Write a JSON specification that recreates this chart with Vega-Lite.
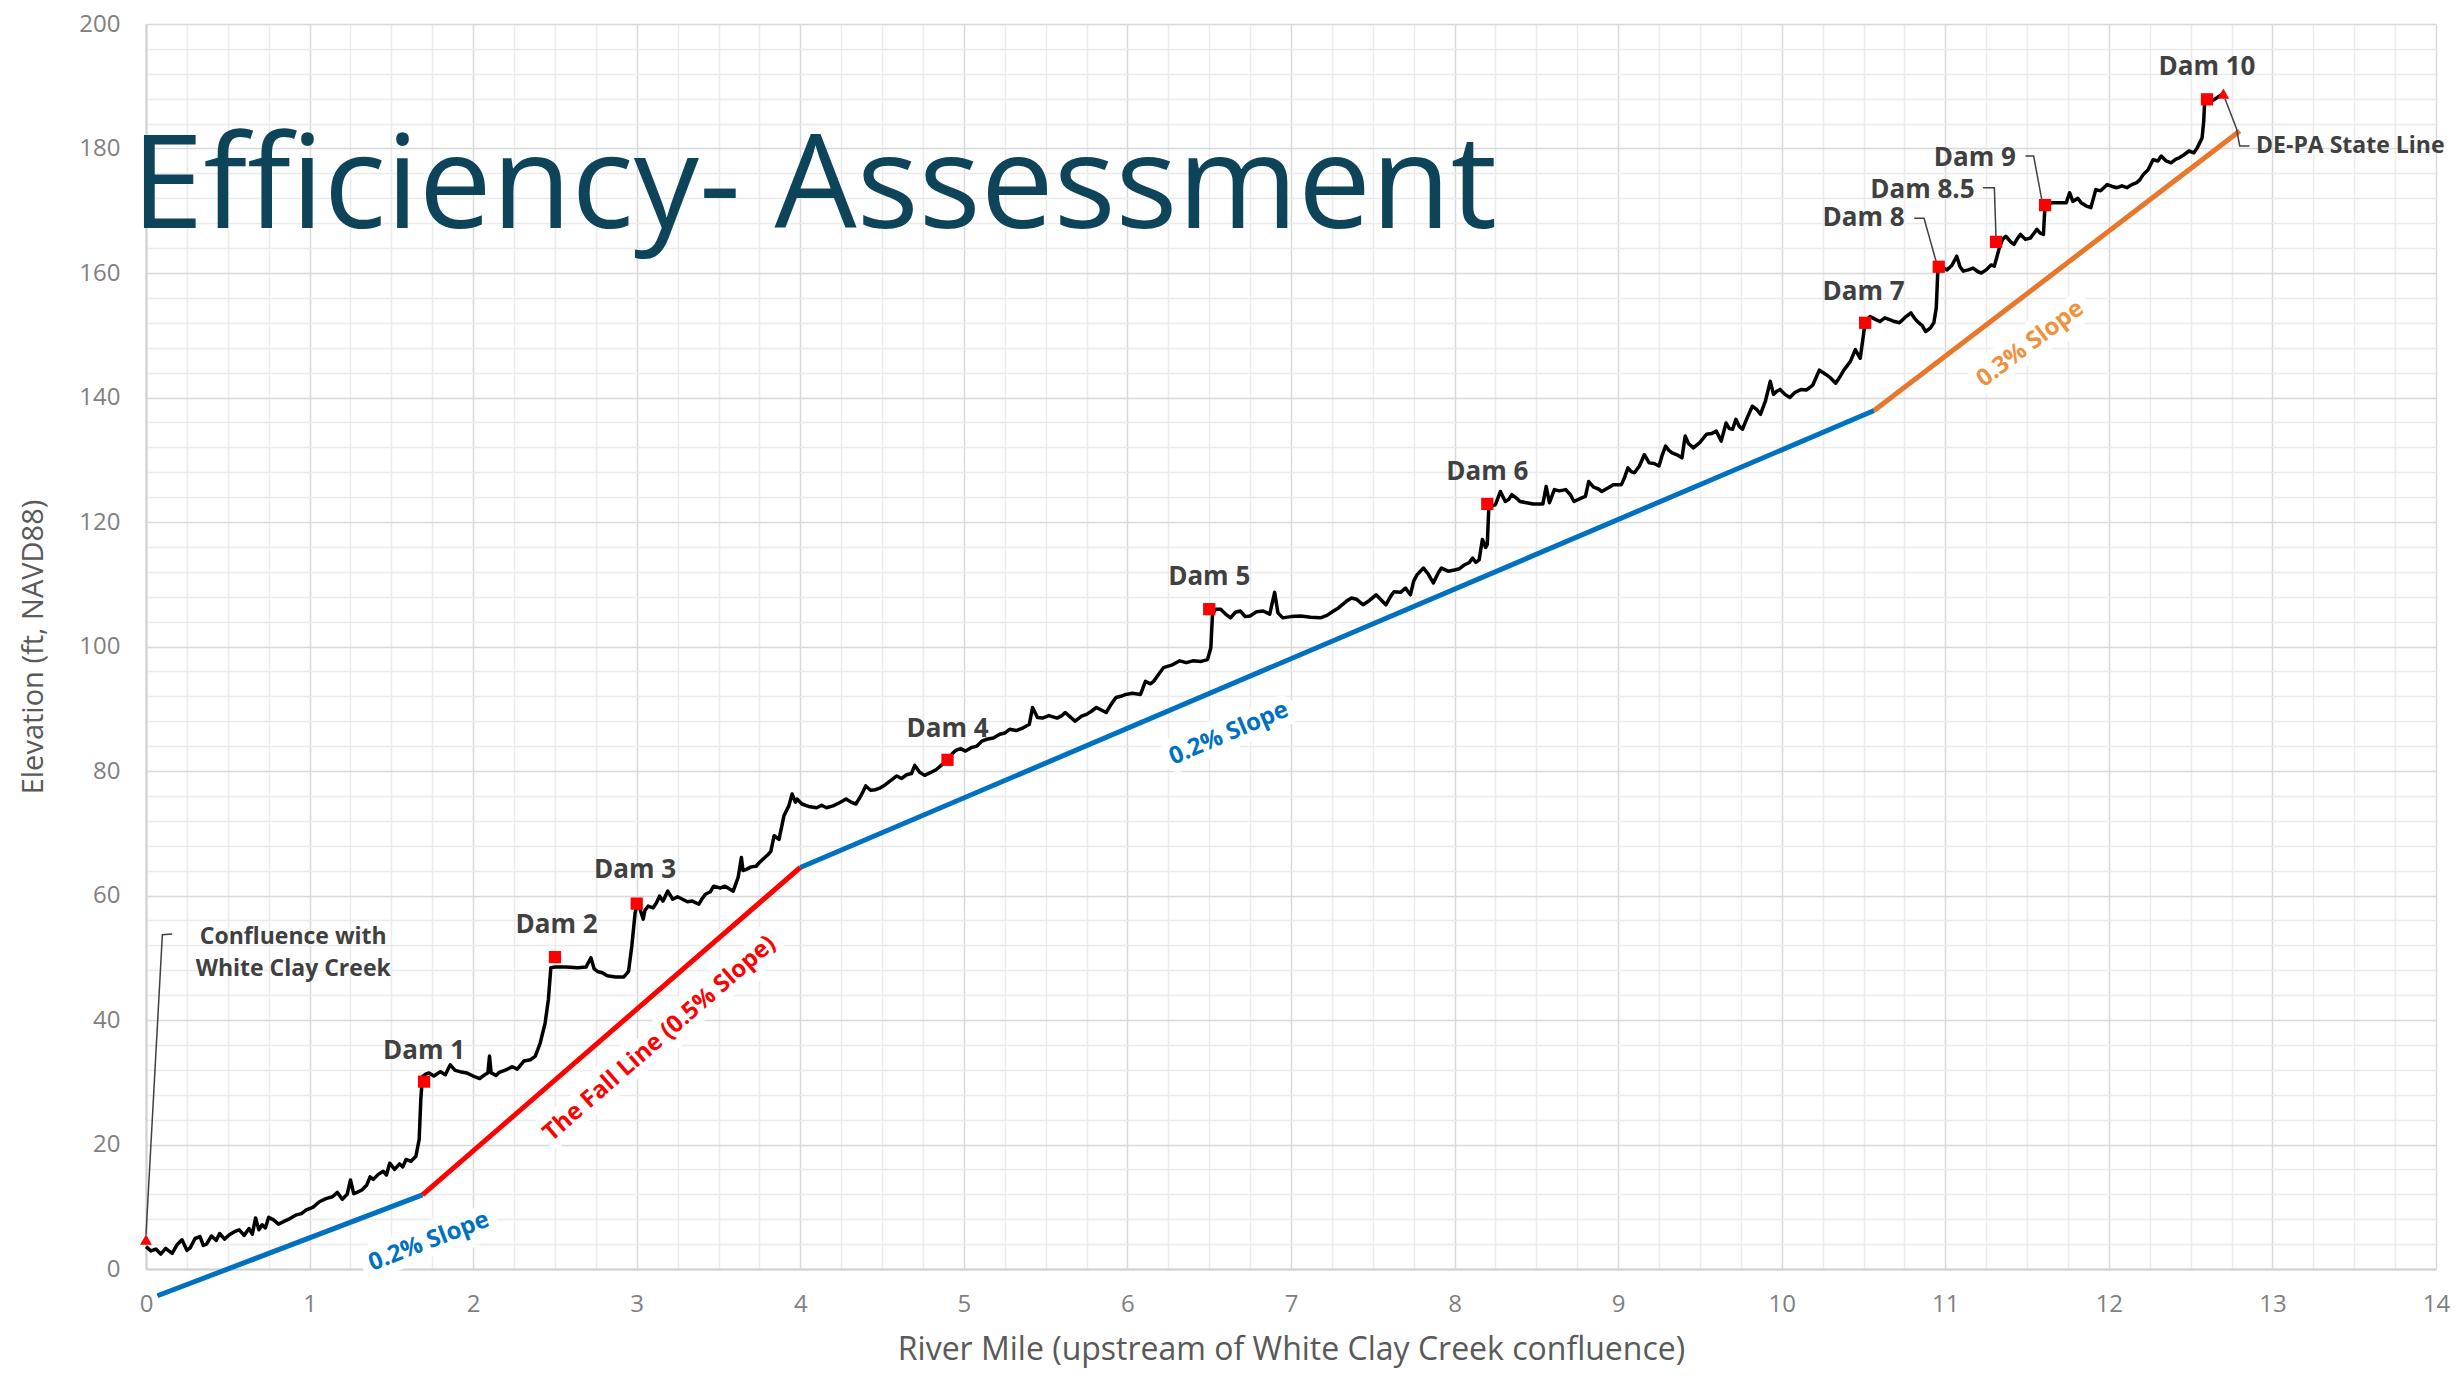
{
"$schema":"https://vega.github.io/schema/vega-lite/v6.json",
"width":2290,"height":1245,
"autosize":{"type":"none"},
"padding":{"left":146,"top":24,"right":22,"bottom":107},
"background":"white",
"config":{"view":{"stroke":null},"font":"Open Sans"},
"datasets":{
"profile":[
{"m":0.00,"e":3.6},{"m":0.03,"e":2.9},{"m":0.06,"e":3.2},{"m":0.09,"e":2.4},{"m":0.12,"e":3.3},{"m":0.16,"e":2.5},{"m":0.19,"e":3.9},{"m":0.22,"e":4.7},{"m":0.25,"e":3.0},{"m":0.27,"e":3.4},{"m":0.30,"e":4.9},{"m":0.33,"e":5.2},{"m":0.35,"e":3.8},{"m":0.37,"e":4.0},{"m":0.40,"e":5.3},{"m":0.43,"e":4.6},{"m":0.45,"e":5.7},{"m":0.48,"e":4.8},{"m":0.51,"e":5.5},{"m":0.54,"e":6.0},{"m":0.57,"e":6.3},{"m":0.60,"e":5.4},{"m":0.63,"e":6.5},{"m":0.65,"e":5.6},{"m":0.67,"e":8.2},{"m":0.69,"e":6.3},{"m":0.71,"e":7.1},{"m":0.73,"e":6.6},{"m":0.75,"e":8.3},{"m":0.78,"e":7.9},{"m":0.81,"e":7.2},{"m":0.84,"e":7.6},{"m":0.88,"e":8.1},{"m":0.92,"e":8.7},{"m":0.95,"e":8.9},{"m":0.98,"e":9.5},{"m":1.02,"e":9.9},{"m":1.06,"e":10.8},{"m":1.10,"e":11.3},{"m":1.14,"e":11.6},{"m":1.17,"e":12.3},{"m":1.20,"e":11.2},{"m":1.23,"e":12.0},{"m":1.25,"e":14.3},{"m":1.27,"e":12.1},{"m":1.29,"e":12.3},{"m":1.32,"e":12.7},{"m":1.35,"e":13.5},{"m":1.37,"e":14.8},{"m":1.39,"e":14.4},{"m":1.42,"e":15.2},{"m":1.45,"e":15.7},{"m":1.47,"e":15.1},{"m":1.49,"e":17.0},{"m":1.52,"e":16.0},{"m":1.55,"e":16.9},{"m":1.57,"e":16.4},{"m":1.59,"e":17.6},{"m":1.62,"e":17.3},{"m":1.65,"e":18.1},{"m":1.67,"e":20.8},{"m":1.68,"e":27.2},{"m":1.69,"e":30.9},{"m":1.71,"e":31.3},{"m":1.73,"e":31.5},{"m":1.76,"e":31.0},{"m":1.80,"e":31.7},{"m":1.83,"e":31.2},{"m":1.86,"e":32.8},{"m":1.89,"e":31.9},{"m":1.92,"e":31.7},{"m":1.96,"e":31.5},{"m":2.00,"e":31.0},{"m":2.04,"e":30.6},{"m":2.07,"e":31.2},{"m":2.09,"e":31.5},{"m":2.10,"e":34.2},{"m":2.11,"e":31.5},{"m":2.14,"e":31.1},{"m":2.16,"e":31.6},{"m":2.20,"e":32.0},{"m":2.24,"e":32.5},{"m":2.27,"e":32.1},{"m":2.31,"e":33.4},{"m":2.35,"e":33.6},{"m":2.38,"e":34.2},{"m":2.41,"e":36.3},{"m":2.44,"e":39.5},{"m":2.46,"e":43.3},{"m":2.475,"e":48.4},{"m":2.50,"e":48.5},{"m":2.57,"e":48.5},{"m":2.64,"e":48.4},{"m":2.69,"e":48.5},{"m":2.72,"e":50.0},{"m":2.74,"e":48.2},{"m":2.76,"e":47.8},{"m":2.79,"e":47.6},{"m":2.82,"e":47.1},{"m":2.87,"e":46.9},{"m":2.92,"e":46.9},{"m":2.95,"e":47.8},{"m":2.97,"e":51.9},{"m":2.98,"e":54.5},{"m":2.99,"e":57.2},{"m":3.00,"e":58.3},{"m":3.02,"e":57.8},{"m":3.04,"e":56.2},{"m":3.05,"e":57.6},{"m":3.07,"e":58.3},{"m":3.10,"e":58.0},{"m":3.12,"e":58.8},{"m":3.14,"e":59.9},{"m":3.16,"e":59.1},{"m":3.19,"e":60.7},{"m":3.22,"e":59.4},{"m":3.25,"e":59.8},{"m":3.28,"e":59.4},{"m":3.31,"e":59.0},{"m":3.34,"e":59.1},{"m":3.38,"e":58.6},{"m":3.40,"e":59.5},{"m":3.42,"e":60.2},{"m":3.45,"e":60.6},{"m":3.47,"e":61.5},{"m":3.51,"e":61.2},{"m":3.54,"e":61.5},{"m":3.57,"e":61.0},{"m":3.59,"e":60.7},{"m":3.62,"e":62.9},{"m":3.64,"e":66.1},{"m":3.65,"e":64.0},{"m":3.67,"e":64.2},{"m":3.70,"e":64.6},{"m":3.73,"e":64.7},{"m":3.75,"e":65.3},{"m":3.77,"e":65.8},{"m":3.80,"e":66.5},{"m":3.82,"e":67.1},{"m":3.84,"e":69.6},{"m":3.87,"e":69.0},{"m":3.90,"e":72.8},{"m":3.93,"e":74.4},{"m":3.95,"e":76.3},{"m":3.97,"e":75.0},{"m":3.98,"e":75.5},{"m":4.01,"e":74.7},{"m":4.05,"e":74.3},{"m":4.10,"e":74.1},{"m":4.13,"e":74.5},{"m":4.16,"e":74.1},{"m":4.20,"e":74.4},{"m":4.24,"e":74.9},{"m":4.28,"e":75.5},{"m":4.31,"e":75.0},{"m":4.34,"e":74.7},{"m":4.37,"e":76.0},{"m":4.40,"e":77.6},{"m":4.43,"e":76.9},{"m":4.46,"e":77.0},{"m":4.49,"e":77.3},{"m":4.52,"e":77.8},{"m":4.55,"e":78.4},{"m":4.59,"e":79.2},{"m":4.62,"e":78.8},{"m":4.65,"e":79.4},{"m":4.68,"e":79.6},{"m":4.70,"e":80.9},{"m":4.73,"e":79.8},{"m":4.76,"e":79.3},{"m":4.80,"e":79.8},{"m":4.83,"e":80.2},{"m":4.87,"e":81.1},{"m":4.90,"e":81.9},{"m":4.93,"e":82.8},{"m":4.95,"e":83.3},{"m":4.98,"e":83.6},{"m":5.01,"e":83.2},{"m":5.05,"e":83.8},{"m":5.08,"e":84.0},{"m":5.11,"e":84.8},{"m":5.14,"e":85.1},{"m":5.18,"e":85.3},{"m":5.22,"e":85.9},{"m":5.25,"e":86.1},{"m":5.28,"e":86.7},{"m":5.32,"e":86.5},{"m":5.36,"e":86.9},{"m":5.40,"e":87.5},{"m":5.42,"e":90.2},{"m":5.45,"e":88.6},{"m":5.48,"e":88.5},{"m":5.52,"e":88.9},{"m":5.57,"e":88.5},{"m":5.60,"e":88.9},{"m":5.62,"e":89.4},{"m":5.65,"e":88.7},{"m":5.68,"e":88.0},{"m":5.72,"e":88.8},{"m":5.75,"e":89.1},{"m":5.78,"e":89.6},{"m":5.81,"e":90.2},{"m":5.84,"e":89.8},{"m":5.87,"e":89.4},{"m":5.90,"e":90.7},{"m":5.93,"e":91.8},{"m":5.96,"e":92.0},{"m":5.99,"e":92.3},{"m":6.03,"e":92.5},{"m":6.08,"e":92.3},{"m":6.11,"e":94.4},{"m":6.14,"e":94.0},{"m":6.16,"e":94.4},{"m":6.19,"e":95.5},{"m":6.22,"e":96.6},{"m":6.27,"e":97.0},{"m":6.32,"e":97.7},{"m":6.36,"e":97.4},{"m":6.40,"e":97.7},{"m":6.45,"e":97.6},{"m":6.49,"e":97.9},{"m":6.51,"e":99.8},{"m":6.52,"e":105.2},{"m":6.54,"e":106.0},{"m":6.57,"e":106.0},{"m":6.60,"e":105.2},{"m":6.63,"e":104.6},{"m":6.66,"e":105.5},{"m":6.69,"e":105.7},{"m":6.72,"e":104.8},{"m":6.75,"e":104.9},{"m":6.79,"e":105.6},{"m":6.83,"e":105.7},{"m":6.87,"e":105.2},{"m":6.90,"e":108.7},{"m":6.92,"e":105.4},{"m":6.95,"e":104.6},{"m":7.00,"e":104.8},{"m":7.06,"e":104.9},{"m":7.12,"e":104.7},{"m":7.18,"e":104.6},{"m":7.22,"e":105.0},{"m":7.26,"e":105.7},{"m":7.29,"e":106.2},{"m":7.34,"e":107.3},{"m":7.37,"e":107.8},{"m":7.40,"e":107.6},{"m":7.44,"e":106.7},{"m":7.48,"e":107.4},{"m":7.52,"e":108.3},{"m":7.55,"e":107.5},{"m":7.58,"e":106.7},{"m":7.61,"e":108.1},{"m":7.63,"e":108.8},{"m":7.67,"e":108.7},{"m":7.70,"e":109.4},{"m":7.73,"e":108.3},{"m":7.75,"e":110.5},{"m":7.77,"e":111.5},{"m":7.81,"e":112.6},{"m":7.84,"e":111.6},{"m":7.87,"e":110.2},{"m":7.90,"e":111.8},{"m":7.92,"e":112.6},{"m":7.96,"e":112.1},{"m":8.00,"e":112.3},{"m":8.03,"e":112.5},{"m":8.06,"e":113.1},{"m":8.09,"e":113.5},{"m":8.11,"e":114.2},{"m":8.13,"e":113.5},{"m":8.15,"e":113.9},{"m":8.17,"e":117.2},{"m":8.19,"e":115.9},{"m":8.20,"e":116.4},{"m":8.21,"e":122.8},{"m":8.23,"e":122.6},{"m":8.25,"e":122.8},{"m":8.28,"e":124.9},{"m":8.31,"e":123.3},{"m":8.33,"e":123.6},{"m":8.35,"e":124.4},{"m":8.38,"e":123.8},{"m":8.40,"e":123.3},{"m":8.44,"e":123.1},{"m":8.48,"e":122.9},{"m":8.54,"e":122.9},{"m":8.56,"e":125.7},{"m":8.58,"e":123.1},{"m":8.61,"e":125.2},{"m":8.64,"e":125.0},{"m":8.68,"e":125.2},{"m":8.71,"e":124.3},{"m":8.73,"e":123.3},{"m":8.77,"e":123.8},{"m":8.80,"e":124.1},{"m":8.82,"e":126.5},{"m":8.85,"e":125.6},{"m":8.88,"e":125.3},{"m":8.90,"e":124.9},{"m":8.94,"e":125.5},{"m":8.97,"e":126.0},{"m":9.02,"e":126.0},{"m":9.04,"e":127.2},{"m":9.06,"e":128.7},{"m":9.08,"e":128.1},{"m":9.10,"e":127.9},{"m":9.13,"e":129.0},{"m":9.16,"e":130.8},{"m":9.19,"e":129.5},{"m":9.22,"e":129.4},{"m":9.25,"e":129.0},{"m":9.27,"e":130.8},{"m":9.29,"e":132.2},{"m":9.31,"e":131.5},{"m":9.33,"e":131.1},{"m":9.36,"e":130.8},{"m":9.39,"e":130.3},{"m":9.41,"e":133.8},{"m":9.43,"e":132.6},{"m":9.46,"e":131.9},{"m":9.50,"e":132.8},{"m":9.54,"e":134.1},{"m":9.57,"e":134.2},{"m":9.60,"e":134.6},{"m":9.63,"e":133.0},{"m":9.66,"e":135.9},{"m":9.68,"e":135.0},{"m":9.70,"e":134.9},{"m":9.72,"e":136.5},{"m":9.74,"e":135.4},{"m":9.76,"e":134.9},{"m":9.79,"e":136.8},{"m":9.82,"e":138.6},{"m":9.85,"e":138.0},{"m":9.87,"e":137.3},{"m":9.90,"e":139.4},{"m":9.93,"e":142.6},{"m":9.95,"e":140.5},{"m":9.97,"e":141.0},{"m":9.99,"e":141.3},{"m":10.02,"e":140.5},{"m":10.05,"e":140.0},{"m":10.08,"e":140.8},{"m":10.12,"e":141.3},{"m":10.15,"e":141.2},{"m":10.19,"e":142.0},{"m":10.23,"e":144.4},{"m":10.27,"e":143.7},{"m":10.30,"e":143.1},{"m":10.33,"e":142.3},{"m":10.36,"e":143.5},{"m":10.38,"e":144.4},{"m":10.42,"e":145.8},{"m":10.45,"e":147.7},{"m":10.48,"e":146.3},{"m":10.50,"e":150.1},{"m":10.51,"e":152.2},{"m":10.54,"e":153.0},{"m":10.57,"e":152.6},{"m":10.60,"e":152.2},{"m":10.63,"e":152.8},{"m":10.66,"e":152.5},{"m":10.69,"e":152.2},{"m":10.72,"e":152.0},{"m":10.76,"e":153.0},{"m":10.79,"e":153.6},{"m":10.81,"e":152.8},{"m":10.83,"e":152.2},{"m":10.86,"e":151.5},{"m":10.88,"e":150.6},{"m":10.91,"e":151.2},{"m":10.93,"e":152.0},{"m":10.945,"e":154.4},{"m":10.955,"e":160.8},{"m":10.98,"e":160.9},{"m":11.01,"e":160.5},{"m":11.04,"e":161.2},{"m":11.07,"e":162.7},{"m":11.09,"e":161.0},{"m":11.11,"e":160.3},{"m":11.14,"e":160.5},{"m":11.17,"e":160.8},{"m":11.20,"e":160.2},{"m":11.22,"e":160.0},{"m":11.25,"e":160.5},{"m":11.28,"e":161.3},{"m":11.30,"e":161.1},{"m":11.33,"e":164.0},{"m":11.35,"e":165.4},{"m":11.37,"e":165.9},{"m":11.40,"e":165.0},{"m":11.42,"e":164.6},{"m":11.44,"e":165.5},{"m":11.46,"e":166.2},{"m":11.49,"e":165.4},{"m":11.52,"e":165.6},{"m":11.54,"e":166.3},{"m":11.56,"e":167.0},{"m":11.58,"e":166.4},{"m":11.60,"e":166.2},{"m":11.61,"e":171.0},{"m":11.66,"e":171.3},{"m":11.70,"e":171.3},{"m":11.74,"e":171.3},{"m":11.76,"e":172.9},{"m":11.78,"e":171.5},{"m":11.81,"e":172.0},{"m":11.83,"e":171.3},{"m":11.86,"e":170.8},{"m":11.89,"e":170.5},{"m":11.92,"e":173.4},{"m":11.95,"e":173.2},{"m":11.99,"e":174.2},{"m":12.02,"e":173.9},{"m":12.05,"e":173.7},{"m":12.08,"e":174.0},{"m":12.11,"e":173.7},{"m":12.14,"e":174.2},{"m":12.17,"e":174.5},{"m":12.19,"e":175.0},{"m":12.21,"e":175.8},{"m":12.24,"e":176.6},{"m":12.27,"e":178.2},{"m":12.30,"e":178.0},{"m":12.32,"e":178.8},{"m":12.35,"e":178.0},{"m":12.38,"e":177.7},{"m":12.41,"e":178.3},{"m":12.43,"e":178.5},{"m":12.46,"e":179.0},{"m":12.49,"e":179.6},{"m":12.52,"e":179.3},{"m":12.54,"e":180.1},{"m":12.57,"e":181.7},{"m":12.58,"e":184.4},{"m":12.585,"e":187.2},{"m":12.60,"e":187.9},{"m":12.64,"e":187.8},{"m":12.67,"e":188.3},{"m":12.70,"e":188.8}
],
"slopes":[
{"seg":"a","m":0.07,"e":-4.3},{"seg":"a","m":1.69,"e":11.9},
{"seg":"b","m":1.69,"e":11.9},{"seg":"b","m":4.0,"e":64.5},
{"seg":"c","m":4.0,"e":64.5},{"seg":"c","m":10.565,"e":137.9},
{"seg":"d","m":10.565,"e":137.9},{"seg":"d","m":12.8,"e":182.8}
],
"dams":[
{"m":1.70,"e":30.1},{"m":2.50,"e":50.1},{"m":3.00,"e":58.7},{"m":4.90,"e":81.8},{"m":6.50,"e":106.0},{"m":8.20,"e":122.9},{"m":10.51,"e":152.0},{"m":10.96,"e":161.0},{"m":11.31,"e":165.0},{"m":11.61,"e":170.9},{"m":12.60,"e":187.9}
],
"ends":[{"m":0.0,"e":4.7},{"m":12.70,"e":188.8}],
"leaders":[
{"g":"conf","m":0.0,"e":5.5},{"g":"conf","m":0.10,"e":53.7},{"g":"conf","m":0.16,"e":53.8},
{"g":"d8","m":10.81,"e":168.8},{"g":"d8","m":10.87,"e":168.8},{"g":"d8","m":10.95,"e":161.3},
{"g":"d85","m":11.23,"e":173.7},{"g":"d85","m":11.30,"e":173.7},{"g":"d85","m":11.31,"e":165.9},
{"g":"d9","m":11.49,"e":178.8},{"g":"d9","m":11.54,"e":178.8},{"g":"d9","m":11.59,"e":171.8},
{"g":"st","m":12.71,"e":188.0},{"g":"st","m":12.78,"e":183.2},{"g":"st","m":12.80,"e":180.4},{"g":"st","m":12.86,"e":180.4}
],
"damLabels":[
{"t":"Dam 1","m":1.70,"e":35.1},{"t":"Dam 2","m":2.51,"e":55.2},{"t":"Dam 3","m":2.99,"e":64.1},{"t":"Dam 4","m":4.90,"e":86.8},{"t":"Dam 5","m":6.50,"e":111.2},{"t":"Dam 6","m":8.20,"e":128.0},{"t":"Dam 7","m":10.50,"e":157.0},{"t":"Dam 8","m":10.50,"e":168.8},{"t":"Dam 8.5","m":10.86,"e":173.4},{"t":"Dam 9","m":11.18,"e":178.4},{"t":"Dam 10","m":12.60,"e":193.1}
],
"conf":[{"t":"Confluence with\nWhite Clay Creek","m":0.90,"e":53.4}],
"state":[{"t":"DE-PA State Line","m":12.90,"e":180.4}],
"slopeLabels":[
{"k":"a","t":"0.2% Slope","m":1.73,"e":4.4},
{"k":"b","t":"The Fall Line (0.5% Slope)","m":3.14,"e":37.0},
{"k":"c","t":"0.2% Slope","m":6.62,"e":86.0},
{"k":"d","t":"0.3% Slope","m":11.52,"e":148.6}
],
"heading":[{"t":"Efficiency- Assessment","m":-0.09,"e":167.2}]
},
"encoding":{
"x":{"field":"m","type":"quantitative","scale":{"domain":[0,14],"nice":false,"zero":false},
 "axis":{"title":"River Mile (upstream of White Clay Creek confluence)",
 "values":[0,0.25,0.5,0.75,1,1.25,1.5,1.75,2,2.25,2.5,2.75,3,3.25,3.5,3.75,4,4.25,4.5,4.75,5,5.25,5.5,5.75,6,6.25,6.5,6.75,7,7.25,7.5,7.75,8,8.25,8.5,8.75,9,9.25,9.5,9.75,10,10.25,10.5,10.75,11,11.25,11.5,11.75,12,12.25,12.5,12.75,13,13.25,13.5,13.75,14],
 "labelExpr":"datum.value % 1 === 0 ? format(datum.value, 'd') : ''",
 "labelOverlap":false,"labelFlush":false,"ticks":false,
 "grid":true,"gridColor":{"condition":{"test":"datum.value % 1 === 0","value":"#d9d9d9"},"value":"#ebebeb"},"gridWidth":1.5,
 "domainColor":"#d0d0d0","domainWidth":2,
 "labelFont":"Open Sans","labelFontSize":24,"labelColor":"#7f7f7f","labelPadding":23,
 "titleFont":"Open Sans","titleFontSize":32,"titleColor":"#595959","titleFontWeight":"normal","titlePadding":18}},
"y":{"field":"e","type":"quantitative","scale":{"domain":[0,200],"nice":false,"zero":false},
 "axis":{"title":"Elevation (ft, NAVD88)",
 "values":[0,4,8,12,16,20,24,28,32,36,40,44,48,52,56,60,64,68,72,76,80,84,88,92,96,100,104,108,112,116,120,124,128,132,136,140,144,148,152,156,160,164,168,172,176,180,184,188,192,196,200],
 "labelExpr":"datum.value % 20 === 0 ? format(datum.value, 'd') : ''",
 "labelOverlap":false,"labelFlush":false,"ticks":false,
 "grid":true,"gridColor":{"condition":{"test":"datum.value % 20 === 0","value":"#d9d9d9"},"value":"#ebebeb"},"gridWidth":1.5,
 "domainColor":"#d0d0d0","domainWidth":2,
 "labelFont":"Open Sans","labelFontSize":24,"labelColor":"#7f7f7f","labelPadding":26,
 "titleFont":"Open Sans","titleFontSize":29,"titleColor":"#595959","titleFontWeight":"normal","titlePadding":30}}
},
"layer":[
{"data":{"name":"slopeLabels"},"transform":[{"filter":"datum.k==='a'"}],"mark":{"type":"text","angle":339,"fontSize":24,"fontWeight":"bold","stroke":"white","strokeWidth":18,"strokeJoin":"round","fill":"white"},"encoding":{"text":{"field":"t"}}},
{"data":{"name":"slopeLabels"},"transform":[{"filter":"datum.k==='b'"}],"mark":{"type":"text","angle":319,"fontSize":24,"fontWeight":"bold","stroke":"white","strokeWidth":18,"strokeJoin":"round","fill":"white"},"encoding":{"text":{"field":"t"}}},
{"data":{"name":"slopeLabels"},"transform":[{"filter":"datum.k==='c'"}],"mark":{"type":"text","angle":337,"fontSize":24,"fontWeight":"bold","stroke":"white","strokeWidth":18,"strokeJoin":"round","fill":"white"},"encoding":{"text":{"field":"t"}}},
{"data":{"name":"slopeLabels"},"transform":[{"filter":"datum.k==='d'"}],"mark":{"type":"text","angle":323,"fontSize":24,"fontWeight":"bold","stroke":"white","strokeWidth":18,"strokeJoin":"round","fill":"white"},"encoding":{"text":{"field":"t"}}},
{"data":{"name":"heading"},"mark":{"type":"text","align":"left","baseline":"alphabetic","font":"Open Sans","fontSize":130,"color":"#0e4459"},"encoding":{"text":{"field":"t"}}},
{"data":{"name":"slopes"},"mark":{"type":"line","strokeWidth":5,"strokeCap":"butt"},"encoding":{"detail":{"field":"seg"},"color":{"field":"seg","type":"nominal","scale":{"domain":["a","b","c","d"],"range":["#0070c0","#ff0000","#0070c0","#e8762b"]},"legend":null}}},
{"data":{"name":"leaders"},"mark":{"type":"line","strokeWidth":1.5,"color":"#404040"},"encoding":{"detail":{"field":"g"}}},
{"data":{"name":"profile"},"mark":{"type":"line","strokeWidth":3.5,"color":"#000000","strokeJoin":"round"},"encoding":{}},
{"data":{"name":"dams"},"mark":{"type":"square","size":150,"filled":true,"color":"#ff0000","opacity":1},"encoding":{}},
{"data":{"name":"ends"},"mark":{"type":"point","shape":"triangle-up","size":140,"filled":true,"color":"#ff0000","opacity":1},"encoding":{}},
{"data":{"name":"damLabels"},"mark":{"type":"text","fontSize":26,"fontWeight":"bold","color":"#404040"},"encoding":{"text":{"field":"t"}}},
{"data":{"name":"conf"},"mark":{"type":"text","fontSize":23,"fontWeight":"bold","color":"#404040","lineBreak":"\n","lineHeight":32},"encoding":{"text":{"field":"t"}}},
{"data":{"name":"state"},"mark":{"type":"text","align":"left","fontSize":23,"fontWeight":"bold","color":"#404040"},"encoding":{"text":{"field":"t"}}},
{"data":{"name":"slopeLabels"},"transform":[{"filter":"datum.k==='a'"}],"mark":{"type":"text","angle":339,"fontSize":24,"fontWeight":"bold","color":"#0070c0"},"encoding":{"text":{"field":"t"}}},
{"data":{"name":"slopeLabels"},"transform":[{"filter":"datum.k==='b'"}],"mark":{"type":"text","angle":319,"fontSize":24,"fontWeight":"bold","color":"#ff0000"},"encoding":{"text":{"field":"t"}}},
{"data":{"name":"slopeLabels"},"transform":[{"filter":"datum.k==='c'"}],"mark":{"type":"text","angle":337,"fontSize":24,"fontWeight":"bold","color":"#0070c0"},"encoding":{"text":{"field":"t"}}},
{"data":{"name":"slopeLabels"},"transform":[{"filter":"datum.k==='d'"}],"mark":{"type":"text","angle":323,"fontSize":24,"fontWeight":"bold","color":"#f0913f"},"encoding":{"text":{"field":"t"}}}
]
}
